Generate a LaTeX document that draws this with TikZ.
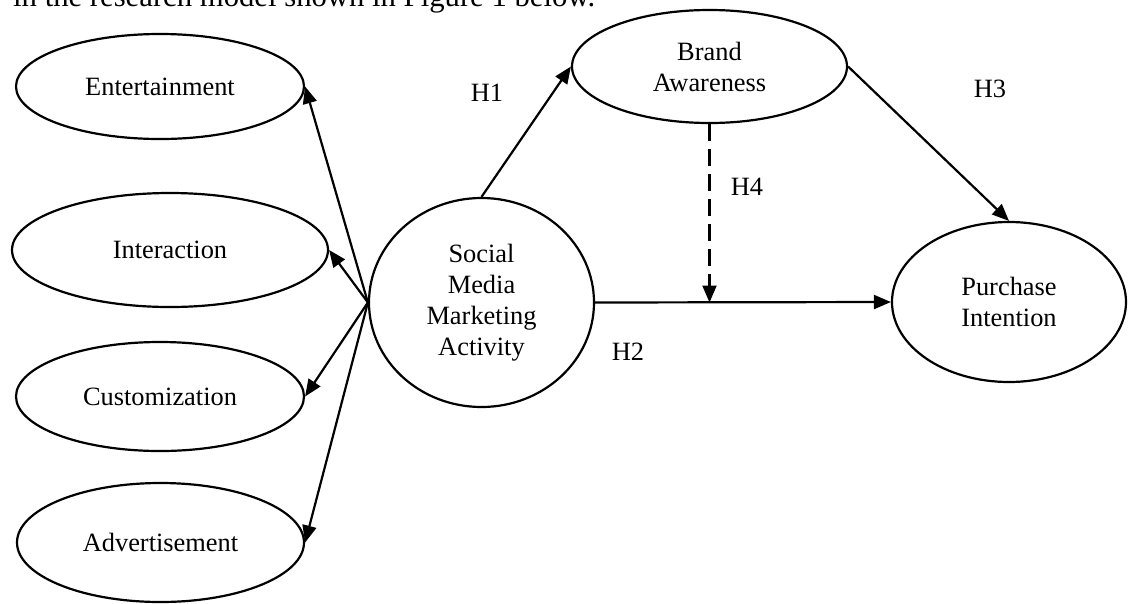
\documentclass[tikz,border=0pt]{standalone}
\usepackage{fontspec}
\setmainfont{Liberation Serif}
\usetikzlibrary{arrows.meta,shapes.geometric,calc}
\begin{document}
\begin{tikzpicture}[x=1pt,y=-1pt,
  every node/.style={font=\fontsize{26.4pt}{31pt}\selectfont},
  oval/.style={draw,ellipse,line width=2.2pt,inner sep=0pt,align=center},
  conn/.style={line width=2.2pt,-{Triangle[length=17pt,width=14pt]}},
  dconn/.style={conn,dash pattern=on 17pt off 8pt},
  hlabel/.style={inner sep=0pt}]
\useasboundingbox (0,0) rectangle (1130,603);
\node[anchor=base west,inner sep=0pt,font=\fontsize{30.7pt}{36pt}\selectfont] (top) at (13,6) {in the research model shown in Figure 1 below.};
\node[oval,minimum width=288pt,minimum height=105pt] (ent) at (160,86.5) {Entertainment};
\node[oval,minimum width=316pt,minimum height=114pt] (int) at (170,250) {Interaction};
\node[oval,minimum width=288pt,minimum height=109pt] (cus) at (160,396.5) {Customization};
\node[oval,minimum width=287pt,minimum height=119pt] (adv) at (160.5,542.5) {Advertisement};
\node[oval,minimum width=225pt,minimum height=209pt] (smma) at (481.5,302.5) {Social\\Media\\Marketing\\Activity};
\node[oval,minimum width=275pt,minimum height=113pt] (ba) at (709.5,66.5) {Brand\\Awareness};
\node[oval,minimum width=234pt,minimum height=160pt] (pi) at (1009,302) {Purchase\\Intention};
\coordinate (mid) at (ba.south |- smma.east);
\draw[conn] (smma.west) -- (ent.east);
\draw[conn] (smma.west) -- (int.east);
\draw[conn] (smma.west) -- (cus.east);
\draw[conn] (smma.west) -- (adv.east);
\draw[conn] (smma.north) -- (ba.west);
\draw[conn] (ba.east) -- (pi.north);
\draw[conn] (smma.east) -- (pi.west);
\draw[dconn] (ba.south) -- (mid);
\node[hlabel] (h1) at (487,93) {H1};
\node[hlabel] (h2) at (628,352) {H2};
\node[hlabel] (h3) at (990,89) {H3};
\node[hlabel] (h4) at (747,187) {H4};
\end{tikzpicture}
\end{document}
